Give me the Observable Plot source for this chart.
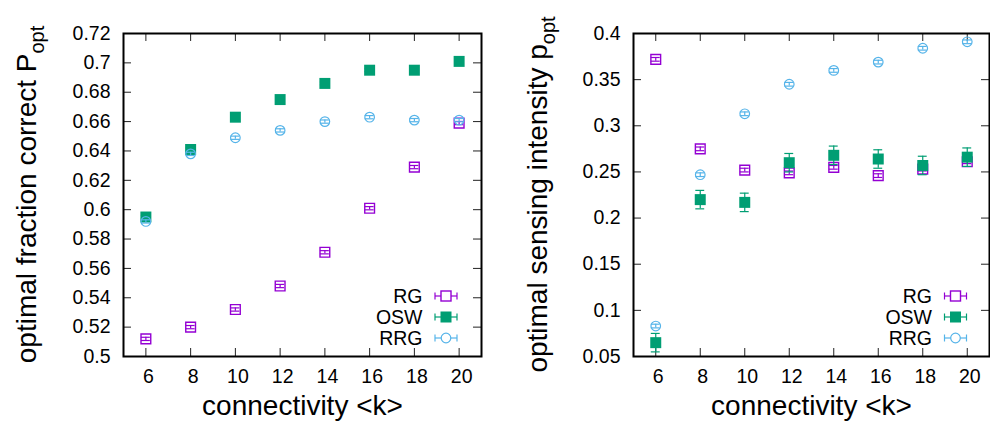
<!DOCTYPE html>
<html><head><meta charset="utf-8">
<script src="https://cdn.jsdelivr.net/npm/d3@7"></script>
<script src="https://cdn.jsdelivr.net/npm/@observablehq/plot@0.6"></script>
<style>
body{margin:0;background:#fff;}
#wrap{display:flex;width:990px;height:421px;overflow:hidden;}
#wrap svg{display:block;overflow:visible;}
</style></head><body><div id="wrap"></div>
<script>
// ---- data ----
const connectivity = [6, 8, 10, 12, 14, 16, 18, 20];
const seriesNames = ["RG", "OSW", "RRG"];
const seriesColors = ["#9400d3", "#009e73", "#56b4e9"];
const xTicks = [6, 8, 10, 12, 14, 16, 18, 20];

// left panel: optimal fraction correct P_opt
const leftYTicks = [0.5, 0.52, 0.54, 0.56, 0.58, 0.6, 0.62, 0.64, 0.66, 0.68, 0.7, 0.72];
const fracRG = [0.512, 0.520, 0.532, 0.548, 0.571, 0.601, 0.629, 0.659];
const fracRGErr = [0.0011, 0.0011, 0.0011, 0.0011, 0.0011, 0.0011, 0.0011, 0.0011];
const fracOSW = [0.595, 0.641, 0.663, 0.675, 0.686, 0.695, 0.695, 0.701];
const fracOSWErr = [0.001, 0.001, 0.001, 0.001, 0.001, 0.001, 0.001, 0.001];
const fracRRG = [0.592, 0.638, 0.649, 0.654, 0.660, 0.663, 0.661, 0.661];
const fracRRGErr = [0.0011, 0.0011, 0.0011, 0.0011, 0.0011, 0.0011, 0.0011, 0.0011];

// right panel: optimal sensing intensity p_opt
const rightYTicks = [0.05, 0.1, 0.15, 0.2, 0.25, 0.3, 0.35, 0.4];
const sensRG = [0.372, 0.275, 0.252, 0.249, 0.255, 0.246, 0.253, 0.261];
const sensRGErr = [0.002, 0.002, 0.002, 0.002, 0.002, 0.002, 0.002, 0.002];
const sensOSW = [0.065, 0.220, 0.217, 0.260, 0.268, 0.264, 0.257, 0.266];
const sensOSWErr = [0.010, 0.010, 0.010, 0.010, 0.010, 0.010, 0.010, 0.010];
const sensRRG = [0.083, 0.247, 0.313, 0.345, 0.360, 0.369, 0.384, 0.391];
const sensRRGErr = [0.002, 0.002, 0.002, 0.002, 0.002, 0.002, 0.002, 0.002];

const FONT = "'Liberation Sans', Arial, Helvetica, sans-serif";

function panel(cfg) {
  const W = 495, H = 421;
  const {ml, mr, mt, mb} = cfg;
  const fw = W - ml - mr, fh = H - mt - mb;
  const idx = d3.range(connectivity.length);
  const marks = [];
  // inward ticks on all four sides
  marks.push(Plot.ruleX(xTicks, {x: d => d, insetTop: fh - 8, stroke: "#222", strokeWidth: 1}));
  marks.push(Plot.ruleX(xTicks, {x: d => d, insetBottom: fh - 8, stroke: "#222", strokeWidth: 1}));
  marks.push(Plot.ruleY(cfg.yTicks, {y: d => d, insetLeft: fw - 8, stroke: "#222", strokeWidth: 1}));
  marks.push(Plot.ruleY(cfg.yTicks, {y: d => d, insetRight: fw - 8, stroke: "#222", strokeWidth: 1}));
  marks.push(Plot.axisX({ticks: xTicks, tickSize: 0, tickPadding: 13, dx: 2.5, fontSize: 19.5, label: null, tickFormat: d => String(d), fill: "#000"}));
  marks.push(Plot.axisY({ticks: cfg.yTicks, tickSize: 0, tickPadding: 13, fontSize: 19.5, label: null, tickFormat: d => String(d), fill: "#000"}));
  cfg.series.forEach((s, si) => {
    const color = seriesColors[si];
    const v = s.values, e = s.errs;
    marks.push(Plot.ruleX(idx, {x: i => connectivity[i], y1: i => v[i] - e[i], y2: i => v[i] + e[i], stroke: color, strokeWidth: 1.2}));
    marks.push(Plot.ruleY(idx, {y: i => v[i] - e[i], x1: i => connectivity[i] - 0.2, x2: i => connectivity[i] + 0.2, stroke: color, strokeWidth: 1.2}));
    marks.push(Plot.ruleY(idx, {y: i => v[i] + e[i], x1: i => connectivity[i] - 0.2, x2: i => connectivity[i] + 0.2, stroke: color, strokeWidth: 1.2}));
    if (si === 0) marks.push(Plot.dot(idx, {x: i => connectivity[i], y: i => v[i], symbol: "square", r: 5.5, stroke: color, fill: "none", strokeWidth: 1.4}));
    if (si === 1) marks.push(Plot.dot(idx, {x: i => connectivity[i], y: i => v[i], symbol: "square", r: 6.2, fill: color, stroke: "none"}));
    if (si === 2) marks.push(Plot.dot(idx, {x: i => connectivity[i], y: i => v[i], symbol: "circle", r: 4.8, stroke: color, fill: "none", strokeWidth: 1.2}));
  });
  marks.push(Plot.text(["connectivity <k>"], {frameAnchor: "bottom", lineAnchor: "middle", dy: 50, fontSize: 28, fill: "#000"}));
  marks.push(Plot.frame({stroke: "#000", strokeWidth: 2}));

  const svg = Plot.plot({
    width: W, height: H,
    marginLeft: ml, marginRight: mr, marginTop: mt, marginBottom: mb,
    x: {domain: [5, 21]},
    y: {domain: cfg.yDomain},
    style: {fontFamily: FONT, fontSize: "19.5px", color: "#000", background: "#fff"},
    marks
  });

  const sel = d3.select(svg);
  // y label with subscript
  const yl = sel.append("text")
    .attr("transform", `translate(${cfg.ylabelX},${mt + fh / 2}) rotate(-90)`)
    .attr("text-anchor", "middle")
    .attr("font-family", FONT).attr("font-size", 28).attr("fill", "#000");
  yl.append("tspan").text(cfg.ylabelMain);
  yl.append("tspan").attr("font-size", 20).attr("dy", 8).text(cfg.ylabelSub);

  // legend
  const fr = W - mr, fb = H - mb;
  const rowsDy = [-60, -39, -18];
  seriesNames.forEach((name, si) => {
    const color = seriesColors[si];
    const cy = fb + rowsDy[si];
    const cx = fr + cfg.legSampleDx;
    const g = sel.append("g");
    g.append("text").attr("x", fr + cfg.legTextDx).attr("y", cy).attr("dy", "0.35em")
      .attr("text-anchor", "end").attr("font-family", FONT).attr("font-size", 19.5).attr("fill", "#000").text(name);
    g.append("line").attr("x1", cx - 11).attr("x2", cx + 11).attr("y1", cy).attr("y2", cy).attr("stroke", color).attr("stroke-width", 1.2);
    g.append("line").attr("x1", cx - 11).attr("x2", cx - 11).attr("y1", cy - 3.5).attr("y2", cy + 3.5).attr("stroke", color).attr("stroke-width", 1.2);
    g.append("line").attr("x1", cx + 11).attr("x2", cx + 11).attr("y1", cy - 3.5).attr("y2", cy + 3.5).attr("stroke", color).attr("stroke-width", 1.2);
    if (si === 0) g.append("rect").attr("x", cx - 5).attr("y", cy - 5).attr("width", 10).attr("height", 10).attr("fill", "#fff").attr("stroke", color).attr("stroke-width", 1.4);
    if (si === 1) g.append("rect").attr("x", cx - 5.5).attr("y", cy - 5.5).attr("width", 11).attr("height", 11).attr("fill", color);
    if (si === 2) g.append("circle").attr("cx", cx).attr("cy", cy).attr("r", 4.8).attr("fill", "#fff").attr("stroke", color).attr("stroke-width", 1.2);
  });
  return svg;
}

const wrap = document.getElementById("wrap");
wrap.appendChild(panel({
  ml: 123, mr: 14, mt: 33, mb: 65,
  yDomain: [0.5, 0.72], yTicks: leftYTicks,
  series: [{values: fracRG, errs: fracRGErr}, {values: fracOSW, errs: fracOSWErr}, {values: fracRRG, errs: fracRRGErr}],
  ylabelX: 36, ylabelMain: "optimal fraction correct P", ylabelSub: "opt",
  legTextDx: -58.5, legSampleDx: -35
}));
wrap.appendChild(panel({
  ml: 138, mr: 1, mt: 33, mb: 65,
  yDomain: [0.05, 0.4], yTicks: rightYTicks,
  series: [{values: sensRG, errs: sensRGErr}, {values: sensOSW, errs: sensOSWErr}, {values: sensRRG, errs: sensRRGErr}],
  ylabelX: 52, ylabelMain: "optimal sensing intensity p", ylabelSub: "opt",
  legTextDx: -57, legSampleDx: -33.5
}));
</script></body></html>
